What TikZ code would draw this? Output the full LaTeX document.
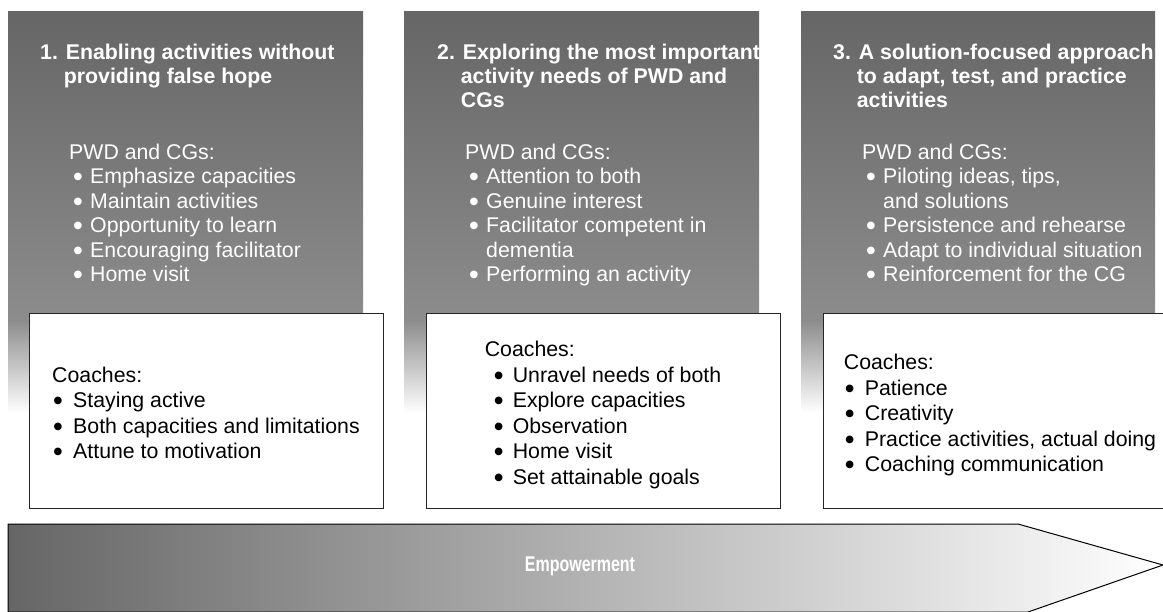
\documentclass[tikz,border=0pt]{standalone}
\usepackage{fontspec}
\setmainfont{Liberation Sans}
\newfontfamily\sym{DejaVu Sans}
\usetikzlibrary{positioning}
\colorlet{fonce}{black!60}
\colorlet{moyen}{black!45}
\newcommand{\lst}[1]{\begin{tabular}[t]{@{}l@{}}#1\end{tabular}}
\newcommand{\bas}[1]{\raisebox{-5pt}[\height][\depth]{\begin{tabular}{@{}l@{}}#1\end{tabular}}}
\newcommand{\bul}[2][4.5pt]{\makebox[#2][l]{\hspace{#1}\raisebox{4pt}{\sym\fontsize{10}{10}\selectfont ●}}}
\tikzset{
  haut/.style={top color=fonce,bottom color=moyen,draw=none},
  fondu/.style={top color=moyen,bottom color=white,draw=none},
  titre/.style={anchor=base west,inner sep=0pt,text=white,font=\fontsize{21.3}{24}\selectfont\bfseries},
  liste/.style={anchor=base west,inner sep=0pt,text=white,font=\fontsize{21.3}{24.5}\selectfont},
  coachbox/.style={draw=black!85,fill=white,line width=1pt,minimum width=354pt,minimum height=195pt,inner sep=0pt,font=\fontsize{21.3}{25.5}\selectfont},
}
\begin{document}
\begin{tikzpicture}[x=1pt,y=-1pt]%
\useasboundingbox (0,0) rectangle (1163,611);%%
\clip (0,0) rectangle (1163,611);%%
%%COLONNES
\fill[haut] (8,11) rectangle (363,320);%%
\fill[fondu] (8,320) rectangle (363,413);%%
\fill[haut] (404,11) rectangle (759,320);%%
\fill[fondu] (404,320) rectangle (759,413);%%
\fill[haut] (801,11) rectangle (1155,320);%%
\fill[fondu] (801,320) rectangle (1155,413);%%
%%TITRES
\node[titre] (t1) at (40,59) {\lst{1. Enabling activities without\\ \hphantom{1.\ }providing false hope}};%%
\node[titre] (t2) at (437,59) {\lst{2. Exploring the most important\\ \hphantom{2.\ }activity needs of PWD and\\ \hphantom{2.\ }CGs}};%%
\node[titre] (t3) at (833,59) {\lst{3. A solution-focused approach\\ \hphantom{3.\ }to adapt, test, and practice\\ \hphantom{3.\ }activities}};%%
%%PWD ET CGS
\node[liste] (p1) at (69,159) {\lst{PWD and CGs:\\ \bul{21pt}Emphasize capacities\\ \bul{21pt}Maintain activities\\ \bul{21pt}Opportunity to learn\\ \bul{21pt}Encouraging facilitator\\ \bul{21pt}Home visit}};%%
\node[liste] (p2) at (465,159) {\lst{PWD and CGs:\\ \bul{21pt}Attention to both\\ \bul{21pt}Genuine interest\\ \bul{21pt}Facilitator competent in\\ \hspace*{21pt}dementia\\ \bul{21pt}Performing an activity}};%%
\node[liste] (p3) at (862,159) {\lst{PWD and CGs:\\ \bul{21pt}Piloting ideas, tips,\\ \hspace*{21pt}and solutions\\ \bul{21pt}Persistence and rehearse\\ \bul{21pt}Adapt to individual situation\\ \bul{21pt}Reinforcement for the CG}};%%
%%COACHES
\node[coachbox] (c1) at (206,410.5) {\bas{Coaches:\\ \bul[1.5pt]{21pt}Staying active\\ \bul[1.5pt]{21pt}Both capacities and limitations\\ \bul[1.5pt]{21pt}Attune to motivation}};%%
\node[coachbox] (c2) at (603,410.5) {\bas{Coaches:\\ \bul[9.5pt]{28pt}Unravel needs of both\\ \bul[9.5pt]{28pt}Explore capacities\\ \bul[9.5pt]{28pt}Observation\\ \bul[9.5pt]{28pt}Home visit\\ \bul[9.5pt]{28pt}Set attainable goals\hspace*{6pt}}};%%
\node[coachbox] (c3) at (1000,410.5) {\bas{Coaches:\\ \bul[1.5pt]{21pt}Patience\\ \bul[1.5pt]{21pt}Creativity\\ \bul[1.5pt]{21pt}Practice activities, actual doing\\ \bul[1.5pt]{21pt}Coaching communication}};%%
%%FLECHE
\draw[left color=fonce,right color=white,draw=black,line width=1pt] (8,524) -- (1018,524) -- (1163,565) -- (1028,612) -- (8,612) -- cycle;%%
\node[font=\fontsize{21.3}{24}\selectfont\bfseries,text=white] (emp) at (580,566) {\scalebox{0.75}[1]{Empowerment}};%%
\end{tikzpicture}
\end{document}
